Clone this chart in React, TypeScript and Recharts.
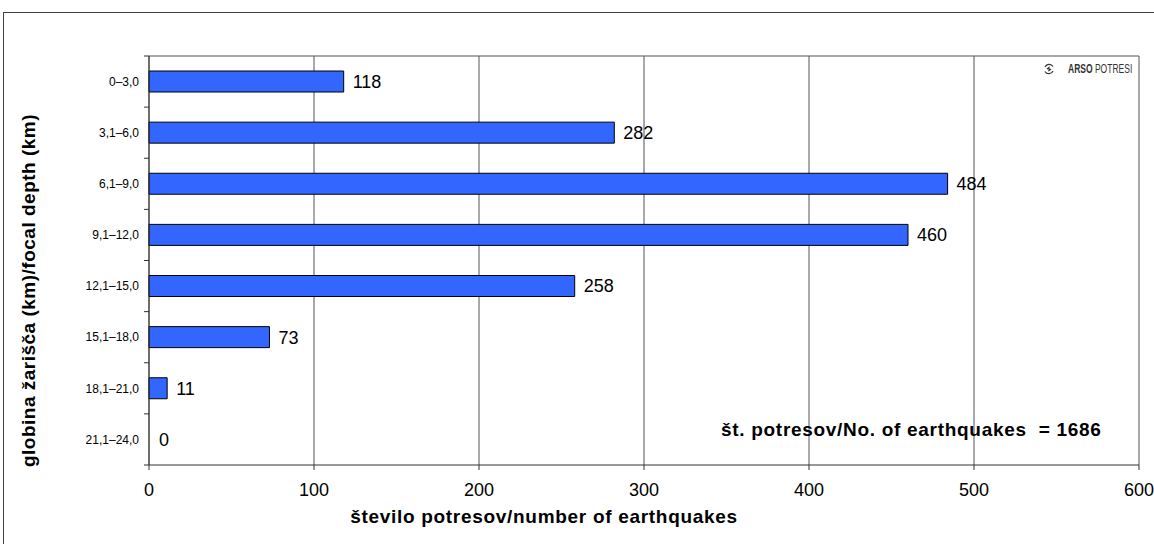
import React from 'react';
import { BarChart, Bar, XAxis, YAxis, CartesianGrid, LabelList, Rectangle } from 'recharts';

const depthRanges = ['0–3,0', '3,1–6,0', '6,1–9,0', '9,1–12,0', '12,1–15,0', '15,1–18,0', '18,1–21,0', '21,1–24,0'];
const quakeCounts = [118, 282, 484, 460, 258, 73, 11, 0];
const countTicks = [0, 100, 200, 300, 400, 500, 600];
const totalQuakes = 1686;

const W = 1154;
const H = 544;
const PLOT_TOP = 56;
const PLOT_BOTTOM = 465;
const BAND = (PLOT_BOTTOM - PLOT_TOP) / depthRanges.length;
const FONT = '"Liberation Sans", Arial, sans-serif';
const titleStyle = { fontWeight: 'bold', fontSize: 19, letterSpacing: 0.7, fill: '#000', fontFamily: FONT };

const data = depthRanges.map((range, i) => ({ range, count: quakeCounts[i] }));

// category label plus the small boundary tick between categories
function DepthTick(props: any) {
  const { x, y, payload, index } = props;
  const axisX = x + 11;
  const last = index === depthRanges.length - 1;
  return (
    <g>
      <text x={x + 1} y={y} dy="0.355em" textAnchor="end" fontSize={12} fill="#000" fontFamily={FONT}>
        {payload.value}
      </text>
      <line x1={axisX - 5} x2={axisX} y1={y - BAND / 2} y2={y - BAND / 2} stroke="#333" />
      {last && <line x1={axisX - 5} x2={axisX} y1={y + BAND / 2} y2={y + BAND / 2} stroke="#333" />}
    </g>
  );
}

// zero-count bars keep their label but draw nothing
function CountBar(props: any) {
  if (!props.value) return <g />;
  return <Rectangle {...props} />;
}

export default function App() {
  return (
    <div style={{ position: 'absolute', left: 0, top: 0, width: W, height: H, overflow: 'hidden', background: '#fff', fontFamily: FONT }}>
      <div style={{ position: 'absolute', left: 3, top: 12, width: W + 20, height: H + 20, border: '1px solid #404040' }} />
      <div style={{ position: 'absolute', left: 0, top: 0 }}>
        <BarChart
          width={W}
          height={H}
          data={data}
          layout="vertical"
          margin={{ top: PLOT_TOP, right: 15, left: 0, bottom: 0 }}
        >
          <CartesianGrid
            stroke="#555"
            vertical
            horizontal={{ stroke: '#999' }}
            horizontalCoordinatesGenerator={({ offset }: any) => [offset.top]}
          />
          <XAxis
            type="number"
            domain={[0, 600]}
            ticks={countTicks}
            height={H - PLOT_BOTTOM}
            tickSize={5}
            tickMargin={13}
            stroke="#333"
            tick={{ fill: '#000', fontSize: 18, fontFamily: FONT }}
            label={{
              value: 'število potresov/number of earthquakes',
              position: 'insideBottom',
              offset: 21,
              dx: -100,
              style: titleStyle,
            }}
          />
          <YAxis
            type="category"
            dataKey="range"
            width={149}
            tickLine={false}
            tickSize={5}
            tickMargin={6}
            stroke="#333"
            tick={<DepthTick />}
            label={{
              value: 'globina žarišča (km)/focal depth (km)',
              angle: -90,
              position: 'center',
              dx: -46,
              dy: 30,
              style: { ...titleStyle, letterSpacing: 0.5, textAnchor: 'middle' },
            }}
          />
          <Bar
            dataKey="count"
            fill="#3366FF"
            stroke="#000"
            strokeWidth={1}
            barSize={21}
            minPointSize={1}
            shape={<CountBar />}
            isAnimationActive={false}
          >
            <LabelList dataKey="count" position="right" offset={9} fill="#000" fontSize={18} fontFamily={FONT} />
          </Bar>
        </BarChart>
      </div>
      <div style={{ position: 'absolute', left: 721, top: 419, fontSize: 19, letterSpacing: 0.7, fontWeight: 'bold', color: '#000', whiteSpace: 'pre' }}>
        {`št. potresov/No. of earthquakes  = ${totalQuakes}`}
      </div>
      <div style={{ position: 'absolute', left: 1042, top: 61, fontSize: 13.5, color: '#333', whiteSpace: 'pre', display: 'flex', alignItems: 'center' }}>
        <svg width={14} height={14} viewBox="0 0 14 14" style={{ marginRight: 12 }}>
          <path d="M3 5 A4.5 4.5 0 0 1 11 4.5" fill="none" stroke="#333" strokeWidth={1.2} />
          <path d="M11 9 A4.5 4.5 0 0 1 3 9.5" fill="none" stroke="#333" strokeWidth={1.2} />
          <path d="M5 7 L7 5.5 L7 8.5 L9 7" fill="none" stroke="#333" strokeWidth={1.2} />
        </svg>
        <span style={{ display: 'inline-block', transform: 'scaleX(0.63)', transformOrigin: 'left center' }}>
          <span style={{ fontWeight: 'bold' }}>ARSO</span>
          <span> POTRESI</span>
        </span>
      </div>
    </div>
  );
}
